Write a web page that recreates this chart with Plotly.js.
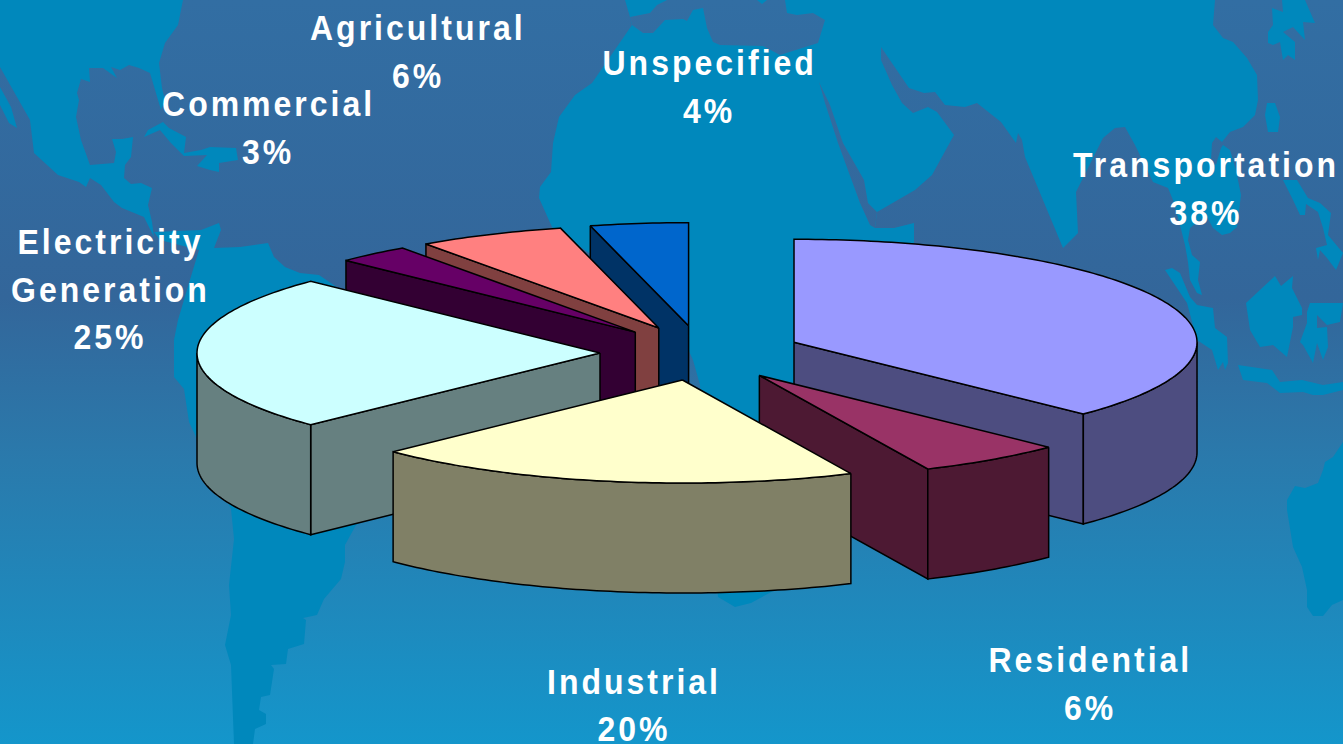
<!DOCTYPE html>
<html>
<head>
<meta charset="utf-8">
<script src="https://cdn.plot.ly/plotly-3.0.1.min.js"></script>
<style>
  html, body { margin: 0; padding: 0; width: 1343px; height: 744px; overflow: hidden; background: #336699; }
  #map, #chart { position: absolute; left: 0; top: 0; width: 1343px; height: 744px; }
  /* Labels are set tall and widely tracked */
  .annotation text { letter-spacing: 3px; transform-box: fill-box; transform-origin: center; transform: scaleY(1.12); }
</style>
</head>
<body>
<svg id="map" viewBox="0 0 1343 744" xmlns="http://www.w3.org/2000/svg"></svg>
<div id="chart"></div>
<script>
// Shares of consumption by sector, clockwise from twelve o'clock
const categories = ["Transportation", "Residential", "Industrial", "Electricity Generation", "Commercial", "Agricultural", "Unspecified"];
const shares = [38, 6, 20, 25, 3, 6, 4];
const labelLines = [["Transportation"], ["Residential"], ["Industrial"], ["Electricity", "Generation"], ["Commercial"], ["Agricultural"], ["Unspecified"]];
const topColors = ["#9999ff", "#993366", "#ffffcc", "#ccffff", "#660066", "#ff8080", "#0066cc"];
const wallColors = ["#4d4d80", "#4d1933", "#808066", "#668080", "#330033", "#804040", "#003366"];

// Pie projection: ellipse radii, wall height and how far slices are pulled out
const pie = { cx: 701, cy: 353, rx: 403, ry: 103, wall: 110, pullX: 101, pullY: 27.5, firstAngle: 0 };
const labelAnchors = [[1206, 165], [1090, 660], [634, 681.5], [110, 242], [268, 104], [418, 28], [709, 63]];
const linePitch = 47.5;

// Backdrop world map
const sea = "url(#seaFade)";
const land = "#0088bc";
const landShapes = [
  [[0,0],[183,0],[178,25],[165,43],[159,63],[162,88],[165,100],[161,110],[150,73],[139,68],[129,65],[120,70],[111,67],[117,78],[103,68],[89,68],[90,82],[81,79],[77,93],[79,100],[76,117],[81,140],[90,165],[114,163],[116,152],[112,139],[122,139],[133,137],[131,157],[125,165],[124,178],[131,184],[141,183],[152,188],[148,205],[152,222],[154,237],[144,217],[122,208],[114,202],[101,185],[90,178],[86,187],[79,182],[58,175],[34,153],[30,120],[13,90],[0,67]],
  [[0,87],[11,107],[17,128],[9,123],[0,105]],
  [[144,137],[148,130],[163,122],[169,128],[186,137],[184,153],[201,150],[210,147],[236,148],[238,160],[219,163],[219,172],[210,170],[197,166],[207,155],[184,156],[170,142],[160,130]],
  [[154,232],[201,230],[219,223],[221,230],[214,248],[240,247],[268,243],[274,257],[285,267],[300,273],[319,275],[400,330],[420,420],[381,512],[356,525],[345,545],[345,562],[341,579],[324,599],[317,615],[303,618],[306,620],[304,644],[288,649],[286,664],[271,665],[274,669],[270,695],[261,697],[259,710],[266,714],[266,724],[255,729],[253,744],[234,744],[231,665],[225,645],[231,615],[229,585],[234,539],[231,509],[197,439],[189,422],[184,389],[174,377],[174,340],[178,320],[189,283],[199,250],[160,240]],
  [[625,0],[1215,0],[1213,25],[1223,38],[1233,42],[1247,58],[1257,75],[1258,100],[1255,115],[1243,127],[1230,132],[1222,142],[1216,137],[1212,143],[1211,160],[1216,165],[1221,148],[1223,145],[1230,150],[1236,170],[1241,195],[1237,227],[1230,233],[1222,235],[1213,228],[1206,215],[1190,228],[1188,240],[1192,255],[1200,262],[1198,280],[1202,295],[1197,293],[1190,280],[1188,262],[1185,245],[1180,225],[1173,200],[1168,188],[1153,182],[1135,145],[1125,127],[1115,128],[1103,138],[1076,192],[1078,233],[1063,248],[1025,157],[1022,140],[1018,133],[1016,143],[1001,122],[977,103],[965,107],[945,105],[935,92],[924,93],[909,88],[881,47],[881,60],[892,85],[902,103],[913,113],[928,107],[937,112],[954,135],[932,175],[915,190],[877,212],[875,228],[894,228],[914,223],[914,242],[880,380],[830,440],[800,520],[775,590],[751,603],[735,607],[718,597],[710,500],[700,385],[693,360],[670,310],[552,227],[539,198],[540,187],[551,172],[553,143],[559,117],[575,95],[592,83],[632,25],[630,17]],
  [[1272,8],[1283,12],[1282,0],[1305,0],[1315,23],[1303,22],[1305,40],[1293,27],[1283,32],[1295,42],[1295,60],[1288,55],[1283,60],[1280,42],[1273,45],[1268,43],[1268,32],[1273,25]],
  [[1267,103],[1275,103],[1280,117],[1278,132],[1268,132],[1265,115]],
  [[1283,180],[1297,180],[1308,198],[1320,203],[1331,213],[1328,235],[1343,253],[1336,270],[1327,258],[1320,250],[1318,260],[1316,248],[1327,245],[1323,228],[1318,212],[1306,204],[1305,215],[1300,215],[1293,200]],
  [[1246,303],[1275,276],[1281,286],[1293,276],[1292,288],[1302,308],[1302,315],[1293,317],[1293,327],[1287,357],[1273,345],[1260,347],[1250,330]],
  [[1310,303],[1343,303],[1340,322],[1327,325],[1317,315],[1317,328],[1327,327],[1328,347],[1323,360],[1317,343],[1313,363],[1303,345],[1300,342],[1307,323],[1307,312]],
  [[1165,270],[1172,268],[1180,273],[1190,297],[1197,305],[1213,308],[1215,328],[1227,337],[1228,363],[1225,370],[1223,362],[1218,370],[1212,350],[1197,340],[1187,303]],
  [[1238,365],[1272,370],[1280,382],[1302,380],[1323,385],[1343,382],[1343,390],[1323,395],[1313,395],[1303,392],[1280,393],[1267,383],[1243,380]],
  [[1343,442],[1333,457],[1325,462],[1323,470],[1318,483],[1305,488],[1295,486],[1287,500],[1287,510],[1293,547],[1302,567],[1307,590],[1307,607],[1313,616],[1323,616],[1332,605],[1343,600]]
];
// Inland seas cut back into the land masses
const seaShapes = [
  [[630,17],[650,13],[657,5],[667,0],[757,0],[762,4],[767,0],[785,0],[787,13],[797,15],[813,13],[825,20],[818,43],[780,55],[763,46],[720,45],[713,42],[707,28],[703,8],[693,10],[687,21],[683,19],[665,20],[653,33],[643,33],[632,25]],
  [[819,82],[830,105],[843,143],[864,180],[868,203],[877,212],[875,228],[870,225],[860,203],[838,143],[825,103]]
];

const toPath = pts => "M" + pts.map(p => p.join(",")).join("L") + "Z";
document.getElementById("map").innerHTML =
  '<defs><linearGradient id="seaFade" gradientUnits="userSpaceOnUse" x1="0" y1="0" x2="0" y2="744">' +
  '<stop offset="0" stop-color="#326ea3"/><stop offset="0.4" stop-color="#33669a"/>' +
  '<stop offset="0.62" stop-color="#2a7aac"/><stop offset="1" stop-color="#1496cb"/></linearGradient></defs>' +
  '<rect width="1343" height="744" fill="' + sea + '"/>' +
  landShapes.map(s => '<path d="' + toPath(s) + '" fill="' + land + '"/>').join("") +
  seaShapes.map(s => '<path d="' + toPath(s) + '" fill="' + sea + '"/>').join("");

// Project an angle (degrees clockwise from twelve o'clock) onto the slice's rim
const total = shares.reduce((a, b) => a + b, 0);
const rad = d => d * Math.PI / 180;
const rimPoint = (o, deg) => [o.x + pie.rx * Math.sin(rad(deg)), o.y - pie.ry * Math.cos(rad(deg))];

function polygon(pts, color, name) {
  return {
    type: "scatter", mode: "lines", fill: "toself", fillcolor: color,
    x: pts.map(p => p[0]), y: pts.map(p => p[1]),
    line: { color: "#000000", width: 1.5, simplify: false },
    name: name, hoverinfo: "name", showlegend: false
  };
}

function wallBelow(path) {
  const down = path.map(p => [p[0], p[1] + pie.wall]).reverse();
  return path.concat(down, [path[0]]);
}

let cursor = pie.firstAngle;
const slices = shares.map((share, i) => {
  const start = cursor, end = cursor + share / total * 360;
  cursor = end;
  const mid = (start + end) / 2;
  const origin = {
    x: pie.cx + pie.pullX * Math.sin(rad(mid)),
    y: pie.cy - pie.pullY * Math.cos(rad(mid))
  };
  return { i, start, end, origin };
});

// Slices are painted from the back of the pie to the front
const traces = [];
slices.slice().sort((a, b) => a.origin.y - b.origin.y).forEach(s => {
  const name = categories[s.i], wallColor = wallColors[s.i], o = s.origin;
  const apex = [o.x, o.y];
  if (Math.sin(rad(s.start)) < -1e-6) {
    traces.push(polygon(wallBelow([apex, rimPoint(o, s.start)]), wallColor, name));
  }
  if (Math.sin(rad(s.end)) > 1e-6) {
    traces.push(polygon(wallBelow([apex, rimPoint(o, s.end)]), wallColor, name));
  }
  const from = Math.max(s.start, 90), to = Math.min(s.end, 270);
  if (from < to) {
    const rim = [];
    for (let d = from; d < to; d += 1) rim.push(rimPoint(o, d));
    rim.push(rimPoint(o, to));
    traces.push(polygon(wallBelow(rim), wallColor, name));
  }
  const top = [apex];
  for (let d = s.start; d < s.end; d += 1) top.push(rimPoint(o, d));
  top.push(rimPoint(o, s.end), apex);
  traces.push(polygon(top, topColors[s.i], name));
});

// One annotation per text line keeps the line pitch even
const annotations = [];
shares.forEach((share, i) => {
  const lines = labelLines[i].concat([share + "%"]);
  lines.forEach((text, n) => annotations.push({
    text: text, x: labelAnchors[i][0], y: labelAnchors[i][1] + n * linePitch,
    xref: "x", yref: "y", showarrow: false, xanchor: "center", yanchor: "middle",
    font: { family: "Liberation Sans, Arial, sans-serif", size: 32, color: "#ffffff", weight: 700 }
  }));
});

const hiddenAxis = { visible: false, fixedrange: true, showgrid: false, zeroline: false };
Plotly.newPlot("chart", traces, {
  width: 1343, height: 744,
  margin: { l: 0, r: 0, t: 0, b: 0 },
  paper_bgcolor: "rgba(0,0,0,0)", plot_bgcolor: "rgba(0,0,0,0)",
  xaxis: Object.assign({ range: [0, 1343] }, hiddenAxis),
  yaxis: Object.assign({ range: [744, 0] }, hiddenAxis),
  annotations: annotations, showlegend: false
}, { displayModeBar: false, staticPlot: true });
</script>
</body>
</html>
